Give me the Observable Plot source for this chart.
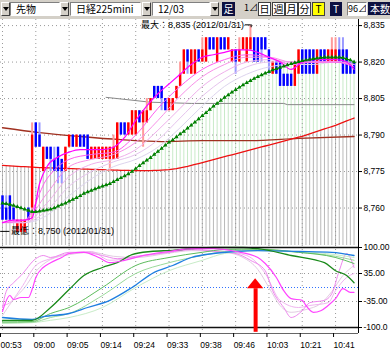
<!DOCTYPE html>
<html><head><meta charset="utf-8">
<script src="https://cdn.jsdelivr.net/npm/d3@7"></script>
<script src="https://cdn.jsdelivr.net/npm/@observablehq/plot@0.6"></script>
<style>
body{margin:0;background:#fff;width:390px;height:357px;overflow:hidden;font-family:"Noto Sans CJK JP",sans-serif}
#tb{position:relative;height:19px;background:#d4d0c8;overflow:hidden}
#tb div{position:absolute;top:2px;height:14px;box-sizing:border-box;font-size:10px;line-height:12px;white-space:nowrap}
.dd{width:9px;background:#d4d0c8;border:1px solid;border-color:#fff #404040 #404040 #fff}
.dd:after{content:"";position:absolute;left:1px;top:4px;border-left:3px solid transparent;border-right:3px solid transparent;border-top:4px solid #000}
.box{background:#fff;border:1px solid;border-color:#808080 #fff #fff #808080;padding-left:5px;color:#000;overflow:hidden}
.dk{background:#0c1040;color:#fff;text-align:center;line-height:14px!important}
.btn{width:13px;background:#fff;border:1px solid #404040;text-align:center;color:#000}
.yl{background:#ffff00}
#main,#sub{line-height:0}
</style></head><body>
<div id="tb">
 <div class="dd" style="left:1px"></div>
 <div class="box" style="left:10px;width:50px">先物</div>
 <div class="dd" style="left:60px"></div>
 <div class="box" style="left:70px;width:71px">日経225mini</div>
 <div class="dd" style="left:142px"></div>
 <div class="box" style="left:152px;width:58px">12/03</div>
 <div class="dd" style="left:210px"></div>
 <div class="dk" style="left:222px;width:13px">足</div>
 <div style="left:244px;width:13px;color:#000;font-size:9px">1⊿</div>
 <div class="btn" style="left:258px">日</div>
 <div class="btn" style="left:272px">週</div>
 <div class="btn" style="left:285px">月</div>
 <div class="btn" style="left:298px">分</div>
 <div class="btn yl" style="left:312px">T</div>
 <div class="dk" style="left:330px;width:12px">T</div>
 <div class="box" style="left:347px;width:20px;padding:0;text-align:right;font-size:9px">96⊿</div>
 <div class="dk" style="left:368px;width:22px;height:13px;text-align:left;padding-left:2px;overflow:hidden;line-height:13px!important">本数</div>
</div>
<div id="main"></div>
<div id="sub"></div>
<script>
// ---- data ----
const tickBars = [0, 9, 18, 27, 36, 45, 54, 63, 72, 81, 90];
const tickLabels = ["00:53", "09:00", "09:05", "09:14", "09:24", "09:33", "09:38", "09:46", "10:03", "10:21", "10:41"];
const priceTicks = [8835, 8820, 8805, 8790, 8775, 8760];
const oscTicks = [100, 35, -35, -100];
const oscTickLabels = ["100.00", "35.00", "-35.00", "-100.0"];

const open  = [8765,8760,8765,8760,8750,8750,8750,8760,8760,8795,8790,8775,8785,8785,8780,8785,8780,8775,8785,8790,8785,8790,8790,8790,8780,8780,8780,8780,8780,8780,8780,8780,8795,8795,8790,8790,8790,8800,8795,8795,8800,8810,8810,8810,8805,8800,8800,8805,8810,8815,8825,8815,8815,8825,8820,8820,8830,8830,8820,8830,8830,8825,8820,8825,8820,8825,8820,8825,8830,8830,8830,8830,8825,8815,8820,8820,8815,8815,8815,8810,8815,8825,8825,8825,8825,8815,8825,8825,8820,8820,8820,8825,8825,8825,8820,8820];
const high  = [8765,8765,8765,8760,8755,8755,8755,8760,8795,8795,8795,8785,8785,8785,8785,8785,8780,8785,8790,8790,8790,8790,8790,8790,8785,8785,8785,8785,8785,8785,8790,8795,8795,8795,8795,8800,8800,8800,8800,8805,8805,8810,8810,8810,8805,8805,8805,8810,8820,8825,8825,8825,8825,8825,8830,8830,8830,8830,8830,8830,8830,8830,8825,8825,8830,8830,8830,8835,8830,8830,8830,8830,8825,8820,8820,8820,8815,8815,8815,8820,8825,8825,8825,8825,8825,8825,8825,8825,8825,8830,8830,8830,8830,8825,8820,8820];
const low   = [8755,8755,8755,8755,8750,8750,8750,8755,8755,8785,8785,8775,8780,8775,8775,8770,8770,8775,8785,8785,8785,8785,8785,8780,8780,8780,8780,8780,8780,8775,8780,8780,8790,8790,8790,8790,8790,8795,8785,8795,8800,8805,8805,8800,8800,8800,8800,8805,8810,8815,8815,8815,8815,8820,8820,8820,8825,8825,8820,8825,8825,8825,8820,8815,8820,8825,8820,8825,8820,8820,8820,8825,8815,8815,8815,8810,8810,8810,8810,8810,8815,8815,8815,8815,8815,8815,8820,8820,8820,8820,8820,8820,8815,8815,8815,8815];
const close = [8755,8755,8755,8755,8755,8755,8755,8755,8790,8785,8785,8785,8780,8780,8775,8775,8775,8785,8790,8785,8790,8785,8785,8780,8785,8785,8785,8785,8785,8785,8785,8795,8790,8790,8795,8800,8800,8795,8800,8800,8805,8805,8805,8805,8800,8805,8805,8810,8815,8825,8820,8825,8825,8820,8825,8830,8825,8825,8830,8825,8825,8830,8825,8820,8825,8830,8830,8830,8820,8820,8825,8825,8820,8820,8815,8810,8810,8810,8810,8820,8825,8815,8815,8815,8815,8825,8820,8820,8825,8825,8825,8820,8815,8815,8815,8815];

// trend line with triangles (per bar)
const greenLine = [8762,8761.8,8761.5,8761,8760.5,8760,8759.5,8759,8758.5,8758.5,8758.7,8759,8759.2,8759.5,8760,8760.7,8761.4,8762,8762.8,8763.5,8764.2,8765,8766,8766.6,8767.2,8767.8,8768.4,8769,8769.5,8770,8770.8,8771.6,8772.4,8773.2,8774,8775,8776.2,8777.4,8778.5,8779.6,8780.7,8782,8783.2,8784.5,8785.8,8787,8788,8789.2,8790.4,8791.5,8792.8,8794,8795.3,8796.6,8797.9,8799.2,8800.5,8801.8,8803,8804.2,8805.4,8806.5,8807.6,8808.6,8809.6,8810.6,8811.5,8812.3,8813.2,8814,8814.7,8815.4,8816,8816.7,8817.3,8817.8,8818.3,8818.8,8819.3,8819.7,8820.1,8820.5,8820.8,8821.1,8821.4,8821.6,8821.8,8822,8822,8822,8822,8822,8821.8,8821.3,8820.8,8820];
// red average line (per bar)
const redLine = [8777.5,8777.4,8777.3,8777.2,8777.1,8777,8777,8776.9,8776.8,8776.7,8776.6,8776.6,8776.5,8776.5,8776.4,8776.4,8776.3,8776.3,8776.2,8776.2,8776.1,8776.1,8776,8776,8775.9,8775.9,8775.8,8775.8,8775.7,8775.7,8775.6,8775.6,8775.5,8775.5,8775.5,8775.4,8775.4,8775.4,8775.4,8775.4,8775.4,8775.5,8775.5,8775.6,8775.7,8775.8,8776,8776.2,8776.5,8776.8,8777.1,8777.5,8777.9,8778.3,8778.7,8779.1,8779.5,8779.9,8780.3,8780.7,8781.1,8781.5,8781.9,8782.3,8782.7,8783.1,8783.5,8783.9,8784.3,8784.7,8785.1,8785.5,8785.9,8786.3,8786.7,8787.1,8787.5,8787.9,8788.3,8788.7,8789.1,8789.5,8790,8790.5,8791,8791.5,8792,8792.5,8793,8793.5,8794,8794.6,8795.2,8795.8,8796.4,8797];
// brown and gray lines: [bar, price]
const brownLine = [[0,8793],[10,8791],[21,8789.4],[32,8788.1],[43,8787.3],[54,8787.7],[67,8787.7],[80,8788.6],[95,8789.4]];
const grayLine = [[28,8805.5],[40,8803.5],[51,8803],[76,8803],[77,8802.5],[95,8802.5]];

// short moving average (bright magenta): [bar, price]
const maFast = [[0,8754],[3,8755],[6,8755],[8,8756],[10,8770],[12,8777],[15,8781],[18,8783],[21,8784],[24,8784],[27,8784],[30,8785],[33,8789],[36,8796],[39,8802],[42,8807],[45,8811],[48,8815],[51,8819],[54,8822],[57,8823],[60,8824],[63,8825],[66,8825],[69,8824],[72,8822],[75,8820],[78,8817],[81,8820],[84,8821],[87,8821],[90,8821],[93,8820],[95,8817]];
// ribbon of slower averages, sampled at ribbonBars
const ribbonBars = [0,6,12,18,24,30,36,42,48,54,60,66,72,78,84,90,95];
const ribbon1 = [8754,8755,8772,8780,8782,8783,8790,8801,8810,8817,8821,8823,8822,8819,8820,8820,8818];
const ribbon2 = [8754,8755,8766,8777,8780,8782,8787,8796,8806,8814,8819,8822,8822,8820,8820,8820,8819];
const ribbon3 = [8754,8754,8762,8773,8778,8780,8784,8792,8801,8810,8816,8820,8821,8820,8820,8820,8819];
const ribbon4 = [8754,8754,8759,8769,8775,8779,8782,8788,8797,8806,8813,8818,8820,8820,8820,8820,8819];
const ribbon5 = [8754,8754,8757,8765,8772,8777,8780,8785,8793,8802,8810,8815,8818,8819,8819,8820,8820];
const ribbonColors = ["#ff5cf0", "#f890e8", "#efb0ec", "#e6c4ee", "#ddd4ee"];

// oscillator panel: [bar, value]
const oscBlue = [[0,-75],[8,-80],[11,-73],[18,-65],[23,-50],[29,-32],[35,0],[41,38],[46,55],[51,75],[57,85],[63,90],[69,92],[80,90],[89,88],[95,80]];
const oscGreenDark = [[0,-82],[8,-82],[13,-50],[18,-5],[22,30],[27,50],[31,62],[35,82],[40,90],[46,93],[51,97],[57,100],[65,100],[69,97],[78,80],[87,62],[90,42],[93,30],[95,12]];
const oscGreen1 = [[0,-86],[8,-85],[13,-65],[18,-50],[27,0],[36,55],[45,75],[54,88],[60,95],[69,96],[80,88],[90,75],[95,60]];
const oscGreen2 = [[0,-88],[8,-87],[13,-75],[18,-65],[27,-20],[36,35],[45,62],[54,80],[60,90],[69,94],[80,88],[90,78],[95,68]];
const oscGreen3 = [[0,-90],[8,-88],[13,-82],[18,-75],[27,-50],[36,0],[45,42],[54,68],[60,85],[69,92],[80,90],[90,82],[95,75]];
const oscMagenta = [[0,-60],[2,-20],[3,-30],[5,-25],[7,-25],[8,-5],[9,25],[11,50],[13,62],[16,75],[18,85],[22,88],[26,75],[29,62],[33,68],[38,80],[45,90],[51,97],[57,97],[63,90],[69,75],[71,60],[74,25],[76,-8],[78,-28],[81,-32],[82,-45],[84,-62],[86,-58],[88,-45],[90,-28],[92,-3],[94,-12],[95,-12]];
const oscPink2 = [[0,-50],[1,-10],[3,12],[5,30],[9,72],[11,80],[13,75],[18,88],[22,88],[27,80],[31,72],[36,78],[45,88],[51,95],[58,90],[63,85],[67,68],[71,42],[73,-8],[76,-50],[78,-75],[81,-58],[83,-38],[87,-32],[89,-15],[91,42],[93,85],[95,50]];
const oscPink3 = [[0,-45],[2,-38],[5,-2],[9,55],[13,72],[18,85],[24,90],[29,68],[35,74],[45,88],[51,94],[60,90],[66,80],[71,35],[75,-32],[80,-50],[83,-45],[88,-38],[90,-8],[93,25],[95,35]];
const oscPink4 = [[0,-70],[3,-30],[6,0],[9,40],[13,70],[18,82],[24,88],[30,78],[36,75],[45,86],[51,92],[60,88],[65,75],[69,45],[72,0],[75,-45],[78,-62],[82,-55],[86,-40],[89,-10],[92,30],[95,55]];

// annotations
const maxNote = {bar: 37.4, price: 8835.3, text: "最大：8,835 (2012/01/31)", lineFrom: 65.6, lineTo: 67.2};
const minNote = {bar: 2.3, price: 8750.4, text: "最低：8,750 (2012/01/31)", lineFrom: -0.5, lineTo: 2};
const arrowMark = {bar: 68.4, bottom: -112, base: -3, tip: 22, half: 2.2};

// ---- drawing ----
const X = {domain: [-0.54, 96.2], axis: null, label: null};
const font = "Liberation Sans, Noto Sans CJK JP, sans-serif";
const idx = d3.range(open.length);
const isUp = i => close[i] >= open[i];
const grid = {stroke: "#9a9a9a", strokeDasharray: "1,3", strokeWidth: 1};

const ribbonData = [ribbon5, ribbon4, ribbon3, ribbon2, ribbon1].flatMap((s, k) =>
  s.map((v, j) => ({bar: ribbonBars[j], price: v, k: 4 - k})));

const main = Plot.plot({
  width: 390, height: 226,
  marginLeft: 0, marginRight: 32, marginTop: 0, marginBottom: 0,
  x: X,
  y: {domain: [8744.6, 8837.5], axis: null, label: null},
  style: {fontFamily: font, fontSize: "9px", background: "#fff", overflow: "visible"},
  marks: [
    Plot.ruleX(idx, {x: i => i, y1: 8744.6, y2: i => redLine[i], stroke: "#b9b9b9"}),
    Plot.ruleX(idx.filter(i => greenLine[i] > redLine[i]), {x: i => i, y1: i => redLine[i], y2: i => greenLine[i], stroke: "#c8eac8"}),
    Plot.ruleY(priceTicks, grid),
    Plot.ruleX(tickBars, grid),
    Plot.line(grayLine, {x: d => d[0], y: d => d[1], stroke: "#888", strokeWidth: 1}),
    Plot.line(brownLine, {x: d => d[0], y: d => d[1], stroke: "#a03020", strokeWidth: 1.3, curve: "monotone-x"}),
    Plot.line(idx, {x: i => i, y: i => redLine[i], stroke: "#ee1111", strokeWidth: 1.3}),
    Plot.ruleX(idx, {x: i => i, y1: i => low[i], y2: i => high[i], stroke: i => isUp(i) ? "#ff9a9a" : "#9a9aff", strokeWidth: 2}),
    Plot.ruleX(idx, {x: i => i, y1: i => open[i], y2: i => close[i], stroke: i => isUp(i) ? "#ff0000" : "#0000ff", strokeWidth: 2.4}),
    Plot.line(ribbonData, {x: "bar", y: "price", z: "k", stroke: d => ribbonColors[d.k], strokeWidth: 1, curve: "monotone-x"}),
    Plot.line(maFast, {x: d => d[0], y: d => d[1], stroke: "#ff00ff", strokeWidth: 1.2, curve: "monotone-x"}),
    Plot.line(idx, {x: i => i, y: i => greenLine[i], stroke: "#008000", strokeWidth: 1}),
    Plot.dot(idx, {x: i => i, y: i => greenLine[i], symbol: "triangle", r: 1.6, fill: "#008000"}),
    Plot.text([maxNote], {x: d => d.bar, y: d => d.price, text: d => d.text, textAnchor: "start", fill: "#000", fontSize: 9}),
    Plot.ruleY([maxNote], {x1: d => d.lineFrom, x2: d => d.lineTo, y: d => d.price, stroke: "#000"}),
    Plot.ruleX([maxNote], {x: d => d.lineTo, y1: d => d.price, y2: d => d.price - 1.2, stroke: "#000"}),
    Plot.text([minNote], {x: d => d.bar, y: d => d.price, text: d => d.text, textAnchor: "start", fill: "#000", fontSize: 9}),
    Plot.ruleY([minNote], {x1: d => d.lineFrom, x2: d => d.lineTo, y: d => d.price, stroke: "#000"}),
    Plot.ruleX([96.2], {stroke: "#000"}),
    Plot.axisY(priceTicks, {anchor: "right", label: null, tickSize: 3, tickPadding: 2, tickFormat: d => d3.format(",")(d), fill: "#000", stroke: "#000", fontSize: 8.5})
  ]
});
document.getElementById("main").append(main);

const oscLines = [
  {data: oscPink4, color: "#e2cce2", w: 1},
  {data: oscPink3, color: "#f0b4f0", w: 1},
  {data: oscPink2, color: "#ee88ee", w: 1},
  {data: oscGreen3, color: "#c8ecc8", w: 1},
  {data: oscGreen2, color: "#9ada9a", w: 1},
  {data: oscGreen1, color: "#5cbc5c", w: 1},
  {data: oscBlue, color: "#1f7fe0", w: 1.3},
  {data: oscGreenDark, color: "#1a8a1a", w: 1.3},
  {data: oscMagenta, color: "#ff44ff", w: 1.2}
];
const headData = [
  {x: arrowMark.bar - arrowMark.half, y1: arrowMark.base, y2: arrowMark.base},
  {x: arrowMark.bar, y1: arrowMark.base, y2: arrowMark.tip},
  {x: arrowMark.bar + arrowMark.half, y1: arrowMark.base, y2: arrowMark.base}
];

const sub = Plot.plot({
  width: 390, height: 112,
  marginLeft: 0, marginRight: 32, marginTop: 0, marginBottom: 24,
  x: X,
  y: {domain: [-115, 105], axis: null, label: null},
  style: {fontFamily: font, fontSize: "9px", background: "#fff", overflow: "visible"},
  marks: [
    Plot.ruleX(tickBars, grid),
    Plot.ruleY([35, -35], grid),
    Plot.ruleY([0], {stroke: "#3070ff", strokeDasharray: "1,2"}),
    ...oscLines.map(s => Plot.line(s.data, {x: d => d[0], y: d => d[1], stroke: s.color, strokeWidth: s.w, curve: "monotone-x"})),
    Plot.ruleY([100, -100], {stroke: "#111", strokeWidth: 1.5}),
    Plot.ruleY([-115], {stroke: "#666"}),
    Plot.ruleX([96.2], {stroke: "#000"}),
    Plot.ruleX([arrowMark], {x: d => d.bar, y1: d => d.bottom, y2: d => d.base, stroke: "#ff0000", strokeWidth: 4}),
    Plot.areaY(headData, {x: d => d.x, y1: d => d.y1, y2: d => d.y2, fill: "#ff0000"}),
    Plot.axisY(oscTicks, {anchor: "right", label: null, tickSize: 3, tickPadding: 2, tickFormat: (d, i) => oscTickLabels[i], fill: "#000", stroke: "#000", fontSize: 8.5}),
    Plot.axisX(tickBars, {anchor: "bottom", label: null, tickSize: 4, tickPadding: 4, tickFormat: (d, i) => tickLabels[i], textAnchor: "start", dx: -2, fill: "#000", stroke: "#000", fontSize: 8.5})
  ]
});
document.getElementById("sub").append(sub);
</script>
</body></html>
